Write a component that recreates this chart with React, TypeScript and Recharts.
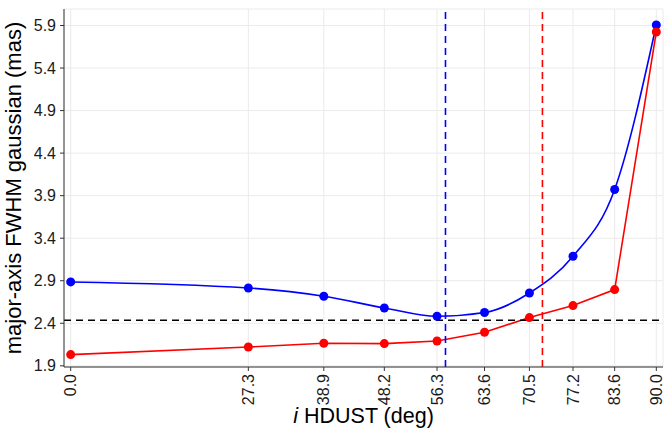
import { LineChart, Line, XAxis, YAxis, CartesianGrid, ReferenceLine, ReferenceArea } from 'recharts'

// inclination grid (deg) and the two FWHM curves (mas)
const inclinations = [0.0, 27.3, 38.9, 48.2, 56.3, 63.6, 70.5, 77.2, 83.6, 90.0]
const blueFwhm = [2.886, 2.815, 2.718, 2.58, 2.482, 2.526, 2.756, 3.188, 3.973, 5.906]
const redFwhm = [2.032, 2.121, 2.165, 2.161, 2.192, 2.294, 2.467, 2.608, 2.796, 5.824]
const yTicks = [1.9, 2.4, 2.9, 3.4, 3.9, 4.4, 4.9, 5.4, 5.9]

const blueBestI = 57.6
const redBestI = 72.5
const observedFwhm = 2.435

const data = inclinations.map((inc, k) => ({ inc, blue: blueFwhm[k], red: redFwhm[k] }))

const font = '"Liberation Sans", Arial, Helvetica, sans-serif'
const textColor = '#1a1a1a'

function XTick(props: any) {
  const { x, y, payload } = props
  return (
    <text
      x={x}
      y={y}
      transform={`rotate(-90, ${x}, ${y})`}
      textAnchor="end"
      dominantBaseline="central"
      fontSize={16}
      fontFamily={font}
      fill={textColor}
    >
      {Number(payload.value).toFixed(1)}
    </text>
  )
}

function XTitle(props: any) {
  const vb = props.viewBox || { x: 64, y: 367, width: 599, height: 61 }
  return (
    <text
      x={vb.x + vb.width / 2}
      y={vb.y + 56}
      textAnchor="middle"
      fontSize={21.5}
      fontFamily={font}
      fill="#000"
    >
      <tspan fontStyle="italic">i</tspan> HDUST (deg)
    </text>
  )
}

function YTitle(props: any) {
  const vb = props.viewBox || { x: 0, y: 9, width: 64, height: 358 }
  const cx = vb.x + 20.5
  const cy = vb.y + vb.height / 2
  return (
    <text
      x={cx}
      y={cy}
      transform={`rotate(-90, ${cx}, ${cy})`}
      textAnchor="middle"
      fontSize={22}
      fontFamily={font}
      fill="#000"
    >
      major-axis FWHM gaussian (mas)
    </text>
  )
}

export default function App() {
  return (
    <div style={{ position: 'absolute', left: 0, top: 0, background: '#fff' }}>
      <LineChart width={668} height={428} data={data} margin={{ top: 9, right: 5, bottom: 0, left: 0 }}>
        <CartesianGrid stroke="#ebebeb" strokeWidth={1} />
        <XAxis
          dataKey="inc"
          type="number"
          domain={[-1.03, 91.03]}
          ticks={inclinations}
          allowDataOverflow
          interval={0}
          height={61}
          tickSize={4}
          tickMargin={3}
          stroke="#333"
          tick={<XTick />}
          label={<XTitle />}
        />
        <YAxis
          type="number"
          domain={[1.886, 6.094]}
          ticks={yTicks}
          allowDataOverflow
          interval={0}
          width={64}
          tickSize={4}
          tickMargin={4}
          stroke="#333"
          tickFormatter={(v: number) => v.toFixed(1)}
          tick={{ fontSize: 16, fontFamily: font, fill: textColor }}
          label={<YTitle />}
        />
        <ReferenceArea fill="none" stroke="#333" strokeWidth={1} ifOverflow="visible" />
        <Line
          dataKey="blue"
          type="monotone"
          stroke="#0000ff"
          strokeWidth={1.6}
          dot={{ r: 4.5, fill: '#0000ff', stroke: 'none' }}
          activeDot={false}
          isAnimationActive={false}
        />
        <Line
          dataKey="red"
          type="linear"
          stroke="#ff0000"
          strokeWidth={1.6}
          dot={{ r: 4.5, fill: '#ff0000', stroke: 'none' }}
          activeDot={false}
          isAnimationActive={false}
        />
        <ReferenceLine x={blueBestI} stroke="#0000ff" strokeWidth={1.6} strokeDasharray="7 5" />
        <ReferenceLine x={redBestI} stroke="#ff0000" strokeWidth={1.6} strokeDasharray="7 5" />
        <ReferenceLine y={observedFwhm} stroke="#000" strokeWidth={1.6} strokeDasharray="7 5" />
      </LineChart>
    </div>
  )
}
